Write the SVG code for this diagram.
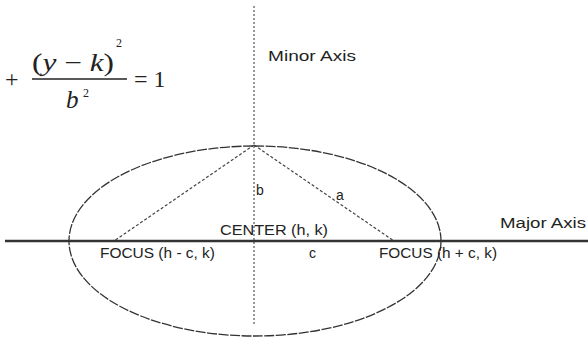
<svg xmlns="http://www.w3.org/2000/svg" width="588" height="337" viewBox="0 0 588 337">
<style>
.lbl{font-family:"Liberation Sans",Arial,sans-serif;font-size:14px;fill:#222}
.math{font-family:"Liberation Serif","Times New Roman",serif;fill:#222}
.dot{fill:none;stroke:#444;stroke-width:1.2;stroke-dasharray:3 2}
</style>
<rect width="588" height="337" fill="#fff"/>
<g id="formula">
<text class="math" x="5" y="87" font-size="24">+</text>
<text class="math" x="32" y="71" font-size="25" textLength="82" lengthAdjust="spacingAndGlyphs">(<tspan font-style="italic">y</tspan> − <tspan font-style="italic">k</tspan>)</text>
<text class="math" x="116" y="47" font-size="12">2</text>
<line x1="32" y1="79" x2="127" y2="79" stroke="#222" stroke-width="1.5"/>
<text class="math" x="66" y="108" font-size="25" font-style="italic">b</text>
<text class="math" x="83" y="97" font-size="12">2</text>
<text class="math" x="134" y="87" font-size="24">= 1</text>
</g>
<g id="connectors">
<line id="minor-axis" x1="254" y1="6" x2="254" y2="326" stroke="#555" stroke-width="1.2" stroke-dasharray="2 2"/>
<line id="major-axis" x1="5" y1="241" x2="588" y2="241" stroke="#333" stroke-width="2.4"/>
<line class="dot" x1="254" y1="145" x2="114" y2="241"/>
<line class="dot" x1="254" y1="145" x2="394" y2="241"/>
</g>
<g id="ellipse">
<ellipse cx="255" cy="241" rx="186" ry="95" fill="none" stroke="#333" stroke-width="1.3" stroke-dasharray="10 1.5"/>
</g>
<g id="labels">
<text class="lbl" x="268" y="61" textLength="88" lengthAdjust="spacingAndGlyphs">Minor Axis</text>
<text class="lbl" x="500" y="228" textLength="86" lengthAdjust="spacingAndGlyphs">Major Axis</text>
<text class="lbl" x="220" y="235" textLength="108" lengthAdjust="spacingAndGlyphs">CENTER  (h, k)</text>
<text class="lbl" x="100" y="258" textLength="115" lengthAdjust="spacingAndGlyphs">FOCUS (h - c, k)</text>
<text class="lbl" x="309" y="258">c</text>
<text class="lbl" x="379" y="258" textLength="118" lengthAdjust="spacingAndGlyphs">FOCUS (h + c, k)</text>
<text class="lbl" x="256" y="195" font-size="15">b</text>
<text class="lbl" x="336" y="200" font-size="15">a</text>
</g>
</svg>
